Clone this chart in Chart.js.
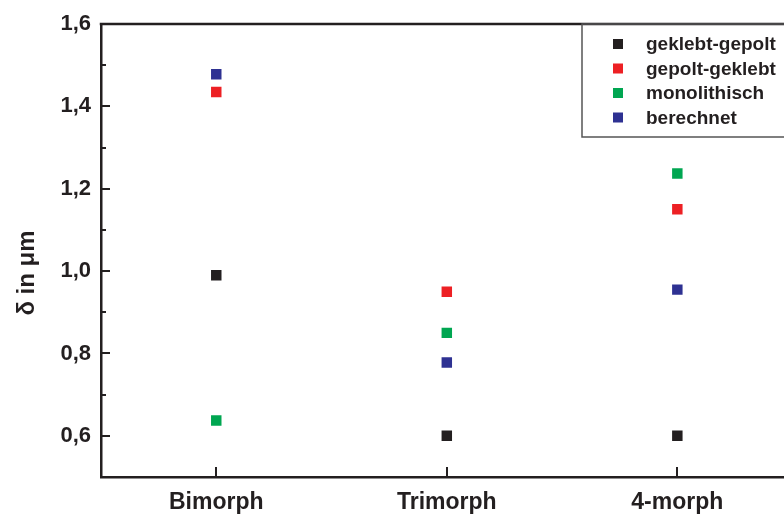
<!DOCTYPE html>
<html>
<head>
<meta charset="utf-8">
<script src="https://cdn.jsdelivr.net/npm/chart.js@4/dist/chart.umd.min.js"></script>
<style>
  html, body { margin: 0; padding: 0; background: #fff; overflow: hidden; }
  #wrap { width: 800px; height: 514px; }
</style>
</head>
<body>
<div id="wrap"><canvas id="deflectionChart" width="800" height="514"></canvas></div>
<script>
const categories = ['Bimorph', 'Trimorph', '4-morph'];

const geklebtGepolt = [0.99, 0.60, 0.60];
const gepoltGeklebt = [1.435, 0.95, 1.15];
const monolithisch = [0.637, 0.85, 1.237];
const berechnet = [1.478, 0.778, 0.955];

const yMin = 0.5;
const yMax = 1.6;
const yTickStep = 0.1;

const ink = '#231f20';
const fontFamily = '"Liberation Sans", Arial, sans-serif';

function series(label, values, color) {
	return {
		label: label,
		data: values,
		showLine: false,
		pointStyle: 'rect',
		pointRadius: 7.4,
		pointHoverRadius: 7.4,
		pointBorderWidth: 0,
		backgroundColor: color,
		borderColor: color
	};
}

// inward ticks, top frame line, rotated axis title and the boxed legend
const framePlugin = {
	id: 'framePlugin',
	afterDraw(chart) {
		const ctx = chart.ctx;
		const area = chart.chartArea;
		const x = chart.scales.x;
		const y = chart.scales.y;

		ctx.save();
		ctx.strokeStyle = ink;
		ctx.lineWidth = 2.5;
		ctx.beginPath();
		ctx.moveTo(area.left - 1.25, area.top);
		ctx.lineTo(area.right, area.top);
		ctx.stroke();

		ctx.lineWidth = 2;
		ctx.beginPath();
		y.ticks.forEach(t => {
			const py = Math.round(y.getPixelForValue(t.value));
			const major = Math.abs(Math.round(t.value * 10) % 2) === 0;
			ctx.moveTo(area.left, py);
			ctx.lineTo(area.left + (major ? 9 : 5), py);
		});
		categories.forEach((c, i) => {
			const px = Math.round(x.getPixelForValue(i));
			ctx.moveTo(px, area.bottom);
			ctx.lineTo(px, area.bottom - 10);
		});
		ctx.stroke();

		// y axis title
		ctx.fillStyle = ink;
		ctx.font = 'bold 24px ' + fontFamily;
		ctx.textAlign = 'center';
		ctx.textBaseline = 'middle';
		ctx.translate(27, 273);
		ctx.rotate(-Math.PI / 2);
		ctx.fillText('\u03B4 in \u03BCm', 0, 0);
		ctx.restore();

		// legend box
		ctx.save();
		const boxLeft = 582;
		ctx.strokeStyle = '#555';
		ctx.lineWidth = 1.5;
		ctx.strokeRect(boxLeft, area.top, 240, 113);
		ctx.font = 'bold 19px ' + fontFamily;
		ctx.textAlign = 'left';
		ctx.textBaseline = 'middle';
		chart.data.datasets.forEach((ds, i) => {
			const rowY = 44 + i * 24.5;
			ctx.fillStyle = ds.backgroundColor;
			ctx.fillRect(613, rowY - 5, 10, 10);
			ctx.fillStyle = ink;
			ctx.fillText(ds.label, 646, rowY + 1);
		});
		ctx.restore();
	}
};

const ctx = document.getElementById('deflectionChart').getContext('2d');

new Chart(ctx, {
	type: 'line',
	data: {
		labels: categories,
		datasets: [
			series('geklebt-gepolt', geklebtGepolt, ink),
			series('gepolt-geklebt', gepoltGeklebt, '#ed2024'),
			series('monolithisch', monolithisch, '#00a651'),
			series('berechnet', berechnet, '#2e3192')
		]
	},
	options: {
		responsive: false,
		animation: false,
		layout: {
			padding: { top: 24, right: 1, left: 0, bottom: 0 }
		},
		plugins: {
			legend: { display: false },
			tooltip: { enabled: false }
		},
		scales: {
			x: {
				type: 'category',
				offset: true,
				grid: { display: false, drawTicks: false, offset: true },
				border: { display: true, color: ink, width: 2.5 },
				ticks: {
					color: ink,
					padding: 12,
					font: { family: fontFamily, size: 23, weight: 'bold' }
				},
				afterFit(scale) { scale.height = 37; }
			},
			y: {
				min: yMin,
				max: yMax,
				grid: { display: false, drawTicks: false },
				border: { display: true, color: ink, width: 2.5 },
				ticks: {
					stepSize: yTickStep,
					color: ink,
					padding: 10,
					font: { family: fontFamily, size: 22, weight: 'bold' },
					callback(value) {
						const tenths = Math.round(value * 10);
						if (tenths % 2 !== 0) return '';
						return (tenths / 10).toFixed(1).replace('.', ',');
					}
				},
				afterFit(scale) { scale.width = 101; }
			}
		}
	},
	plugins: [framePlugin]
});
</script>
</body>
</html>
